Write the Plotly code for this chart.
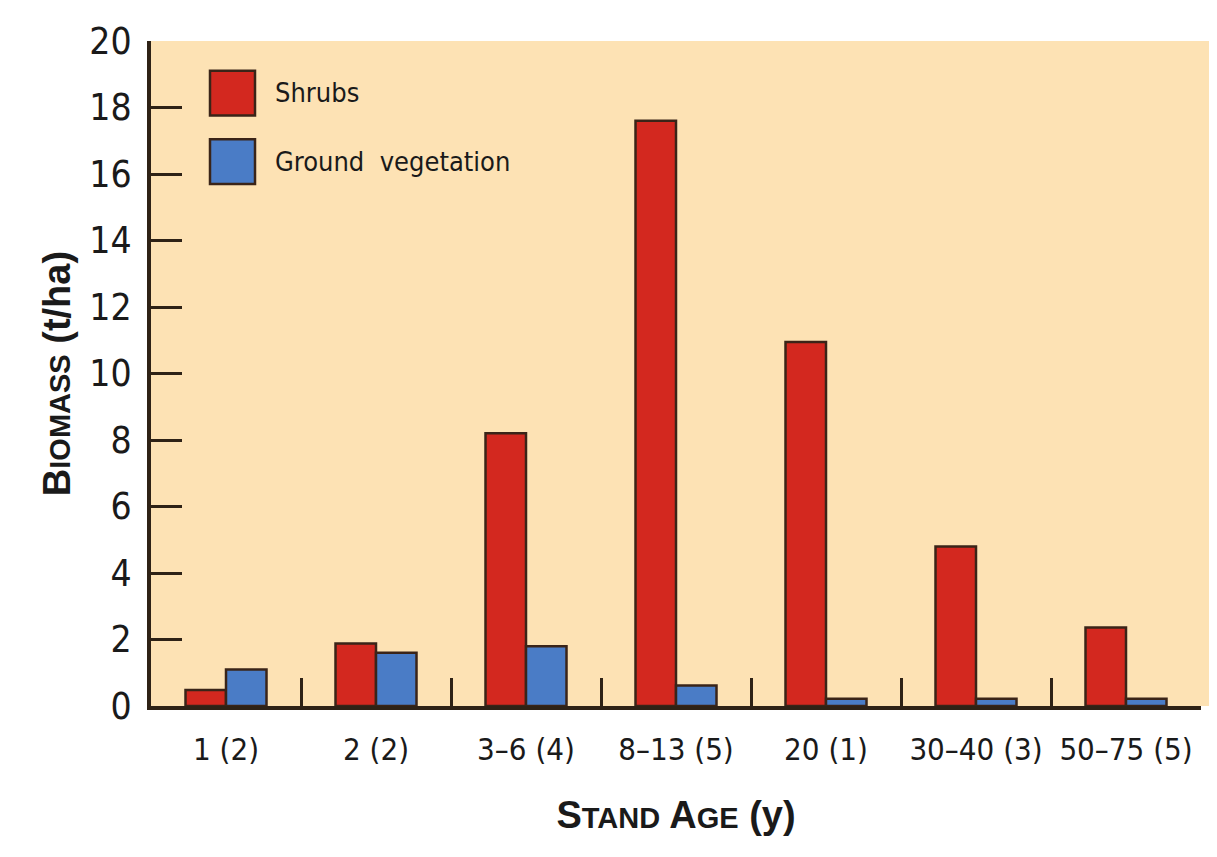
import plotly.graph_objects as go

categories = ["1 (2)", "2 (2)", "3\u20136 (4)", "8\u201313 (5)", "20 (1)", "30\u201340 (3)", "50\u201375 (5)"]
shrubs = [0.48, 1.88, 8.2, 17.6, 10.95, 4.8, 2.36]
ground = [1.1, 1.6, 1.8, 0.62, 0.22, 0.22, 0.22]
series_names = ["Shrubs", "Ground  vegetation"]
y_ticks = [0, 2, 4, 6, 8, 10, 12, 14, 16, 18, 20]

RED = "#D3281F"
BLUE = "#4A7CC6"
EDGE = "#3A2418"
PEACH = "#FDE2B4"
AXIS = "#2E2216"
NARROW = "Liberation Sans Narrow, DejaVu Sans Condensed, Arial Narrow, sans-serif"
BOLDF = "Liberation Sans, Arial, sans-serif"

fig = go.Figure()
fig.add_trace(go.Bar(x=categories, y=shrubs, name=series_names[0],
                     marker=dict(color=RED, line=dict(color=EDGE, width=2.5)), showlegend=False))
fig.add_trace(go.Bar(x=categories, y=ground, name=series_names[1],
                     marker=dict(color=BLUE, line=dict(color=EDGE, width=2.5)), showlegend=False))

OFF = 8  # page body margin
W, H = 1217 - OFF, 857 - OFF
L, T = 151 - OFF, 36 - OFF
R = W - (1201 - OFF)
B = H - (706 - OFF)
pw, ph = W - L - R, H - T - B

def px_x(x):
    return (x - OFF - L) / pw

def px_y(y):
    return 1 - (y - OFF - T) / ph

shapes = [
    dict(type="rect", xref="paper", yref="paper", x0=1, x1=px_x(1211), y0=0, y1=1,
         fillcolor=PEACH, line=dict(width=0), layer="below"),
]
annotations = []
for i, (nm, col) in enumerate(zip(series_names, [RED, BLUE])):
    y0 = 66 + i * 69
    shapes.append(dict(type="rect", xref="paper", yref="paper",
                       x0=px_x(210), x1=px_x(255), y0=px_y(y0 + 45), y1=px_y(y0),
                       fillcolor=col, line=dict(color=EDGE, width=2.5)))
    annotations.append(dict(xref="paper", yref="paper", x=px_x(273), y=px_y(y0 + 22),
                            text=nm, showarrow=False, xanchor="left", yanchor="middle",
                            font=dict(family=NARROW, size=27, color="#1a1a1a")))

fig.update_layout(
    width=W, height=H,
    margin=dict(l=L, r=R, t=T, b=B),
    paper_bgcolor="white",
    plot_bgcolor=PEACH,
    barmode="group", bargap=0.46, bargroupgap=0,
    shapes=shapes, annotations=annotations,
    xaxis=dict(
        type="category", range=[-0.5, 6.5], tickson="boundaries",
        ticks="inside", ticklen=28, tickwidth=3, tickcolor=AXIS,
        showline=True, linecolor=AXIS, linewidth=4, showgrid=False, zeroline=False,
        tickfont=dict(family=NARROW, size=31, color="#1a1a1a"),
        ticklabelstandoff=13,
        title=dict(text="<b>S<span style='font-size:29px'>TAND</span> A<span style='font-size:29px'>GE</span> (y)</b>",
                   font=dict(family=BOLDF, size=38, color="#1a1a1a"), standoff=36),
    ),
    yaxis=dict(
        range=[0, 20], tickvals=y_ticks,
        ticks="inside", ticklen=31, tickwidth=3, tickcolor=AXIS,
        showline=True, linecolor=AXIS, linewidth=4, showgrid=False, zeroline=False,
        tickfont=dict(family=NARROW, size=37, color="#1a1a1a"),
        ticklabelstandoff=8,
        title=dict(text="<b>B<span style='font-size:29px'>IOMASS</span> (t/ha)</b>",
                   font=dict(family=BOLDF, size=38, color="#1a1a1a"), standoff=8),
    ),
)

fig.write_html("out.html")
